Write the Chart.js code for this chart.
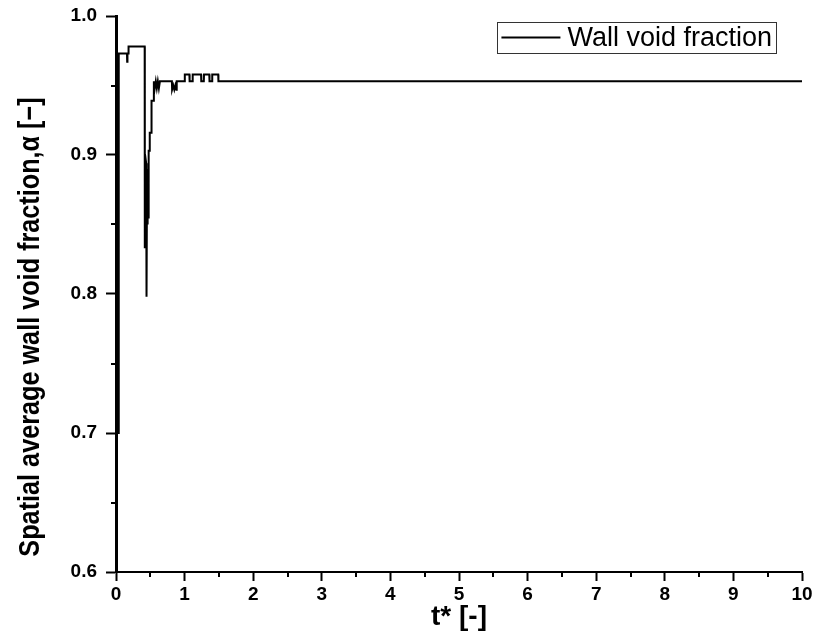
<!DOCTYPE html>
<html>
<head>
<meta charset="utf-8">
<script src="https://cdn.jsdelivr.net/npm/chart.js@4.4.1/dist/chart.umd.min.js"></script>
<style>
  html, body { margin: 0; padding: 0; background: #fff; }
  #wrap { width: 817px; height: 635px; }
</style>
</head>
<body>
<div id="wrap"><canvas id="c" width="817" height="635"></canvas></div>
<script>
// Dimensionless time t* and spatially averaged wall void fraction
const timeValues = [
  0, 0.010, 0.018, 0.026, 0.032, 0.040,
  0.160, 0.163, 0.167, 0.180, 0.183,
  0.418, 0.420, 0.424, 0.440, 0.445, 0.452, 0.458, 0.464, 0.470, 0.476,
  0.490, 0.492, 0.515, 0.518, 0.545, 0.552,
  0.565, 0.580, 0.595, 0.610, 0.625, 0.640,
  0.815, 0.818, 0.835, 0.850, 0.865, 0.880, 0.885,
  1.000, 1.003, 1.070, 1.073, 1.115, 1.118, 1.240, 1.243,
  1.280, 1.283, 1.360, 1.363, 1.400, 1.403, 1.490, 1.493,
  10
];
const voidFraction = [
  0.60, 0.94, 0.70, 0.94, 0.70, 0.973,
  0.973, 0.967, 0.973, 0.973, 0.978,
  0.978, 0.833, 0.900, 0.894, 0.798, 0.880, 0.850, 0.890, 0.855, 0.903,
  0.903, 0.916, 0.916, 0.939, 0.939, 0.953,
  0.948, 0.953, 0.948, 0.953, 0.948, 0.953,
  0.953, 0.947, 0.950, 0.947, 0.950, 0.947, 0.953,
  0.953, 0.958, 0.958, 0.953, 0.953, 0.958, 0.958, 0.953,
  0.953, 0.958, 0.958, 0.953, 0.953, 0.958, 0.958, 0.953,
  0.953
];
const seriesLabel = 'Wall void fraction';
const xTitle = 't* [-]';
const yTitle = 'Spatial average wall void fraction,\u03b1 [\u2212]';
const xRange = [0, 10];
const yRange = [0.6, 1.0];

const points = timeValues.map((t, i) => ({ x: t, y: voidFraction[i] }));

const FONT = '"Liberation Sans", Arial, sans-serif';

// Short minor ticks halfway between the labelled major ticks
const minorTicks = {
  id: 'minorTicks',
  afterDraw(chart) {
    const ctx = chart.ctx;
    ctx.save();
    ctx.strokeStyle = '#000';
    ctx.lineWidth = 2;
    const xs = chart.scales.x, ys = chart.scales.y;
    for (let i = 0; i < xs.ticks.length - 1; i++) {
      const v = (xs.ticks[i].value + xs.ticks[i + 1].value) / 2;
      const px = Math.round(xs.getPixelForValue(v));
      ctx.beginPath();
      ctx.moveTo(px, xs.top);
      ctx.lineTo(px, xs.top + 5);
      ctx.stroke();
    }
    for (let i = 0; i < ys.ticks.length - 1; i++) {
      const v = (ys.ticks[i].value + ys.ticks[i + 1].value) / 2;
      const py = Math.round(ys.getPixelForValue(v));
      ctx.beginPath();
      ctx.moveTo(ys.right, py);
      ctx.lineTo(ys.right - 5, py);
      ctx.stroke();
    }
    ctx.restore();
  }
};

// Vertical axis title, slightly condensed, set a little below the middle of the axis
const yAxisTitle = {
  id: 'yAxisTitle',
  afterDraw(chart) {
    const ctx = chart.ctx;
    const area = chart.chartArea;
    ctx.save();
    ctx.translate(31, (area.top + area.bottom) / 2 + 33);
    ctx.rotate(-Math.PI / 2);
    ctx.scale(0.87, 1);
    ctx.font = 'bold 29px ' + FONT;
    ctx.fillStyle = '#000';
    ctx.textAlign = 'center';
    ctx.textBaseline = 'middle';
    ctx.fillText(yTitle, 0, 0);
    ctx.restore();
  }
};

// Boxed legend in the upper right corner of the plot area
const boxedLegend = {
  id: 'boxedLegend',
  afterDraw(chart) {
    const ctx = chart.ctx;
    const area = chart.chartArea;
    const ds = chart.data.datasets[0];
    ctx.save();
    ctx.font = '27px ' + FONT;
    const textW = ctx.measureText(ds.label).width;
    const lineLen = 59, gap = 7, padL = 4, padR = 4;
    const boxW = padL + lineLen + gap + textW + padR;
    const boxH = 31;
    const right = area.right - 26;
    const left = right - boxW;
    const top = area.top + 6;
    ctx.strokeStyle = '#333';
    ctx.lineWidth = 1;
    ctx.strokeRect(Math.round(left) + 0.5, Math.round(top) + 0.5, Math.round(boxW), boxH);
    const cy = top + boxH / 2;
    ctx.strokeStyle = ds.borderColor;
    ctx.lineWidth = 2;
    ctx.beginPath();
    ctx.moveTo(left + padL, cy);
    ctx.lineTo(left + padL + lineLen, cy);
    ctx.stroke();
    ctx.fillStyle = '#000';
    ctx.textBaseline = 'middle';
    ctx.fillText(ds.label, left + padL + lineLen + gap, cy + 1);
    ctx.restore();
  }
};

new Chart(document.getElementById('c'), {
  type: 'line',
  data: {
    datasets: [{
      label: seriesLabel,
      data: points,
      borderColor: '#000',
      borderWidth: 2,
      pointRadius: 0,
      tension: 0,
      fill: false
    }]
  },
  options: {
    responsive: false,
    animation: false,
    devicePixelRatio: 1,
    layout: { padding: { top: 16, right: 15, bottom: 0, left: 0 } },
    plugins: {
      legend: { display: false },
      tooltip: { enabled: false }
    },
    scales: {
      x: {
        type: 'linear',
        min: xRange[0],
        max: xRange[1],
        afterFit(scale) { scale.height = 63; },
        border: { display: true, color: '#000', width: 2 },
        grid: { display: true, drawOnChartArea: false, drawTicks: true, tickLength: 9, tickWidth: 2, tickColor: '#000' },
        ticks: {
          stepSize: 1,
          color: '#000',
          padding: 2,
          maxRotation: 0,
          font: { family: FONT, size: 19, weight: 'bold' }
        },
        title: {
          display: true,
          text: xTitle,
          color: '#000',
          padding: { top: 0, bottom: 1 },
          font: { family: FONT, size: 28, weight: 'bold' }
        }
      },
      y: {
        type: 'linear',
        min: yRange[0],
        max: yRange[1],
        afterFit(scale) {
          scale.width = 116;
          scale.paddingTop = 0;
          scale.paddingBottom = 0;
        },
        border: { display: true, color: '#000', width: 3 },
        grid: { display: true, drawOnChartArea: false, drawTicks: true, tickLength: 10, tickWidth: 2, tickColor: '#000' },
        ticks: {
          stepSize: 0.1,
          color: '#000',
          padding: 9,
          callback: v => Number(v).toFixed(1),
          font: { family: FONT, size: 19, weight: 'bold' }
        },
        title: { display: false }
      }
    }
  },
  plugins: [minorTicks, yAxisTitle, boxedLegend]
});
</script>
</body>
</html>
